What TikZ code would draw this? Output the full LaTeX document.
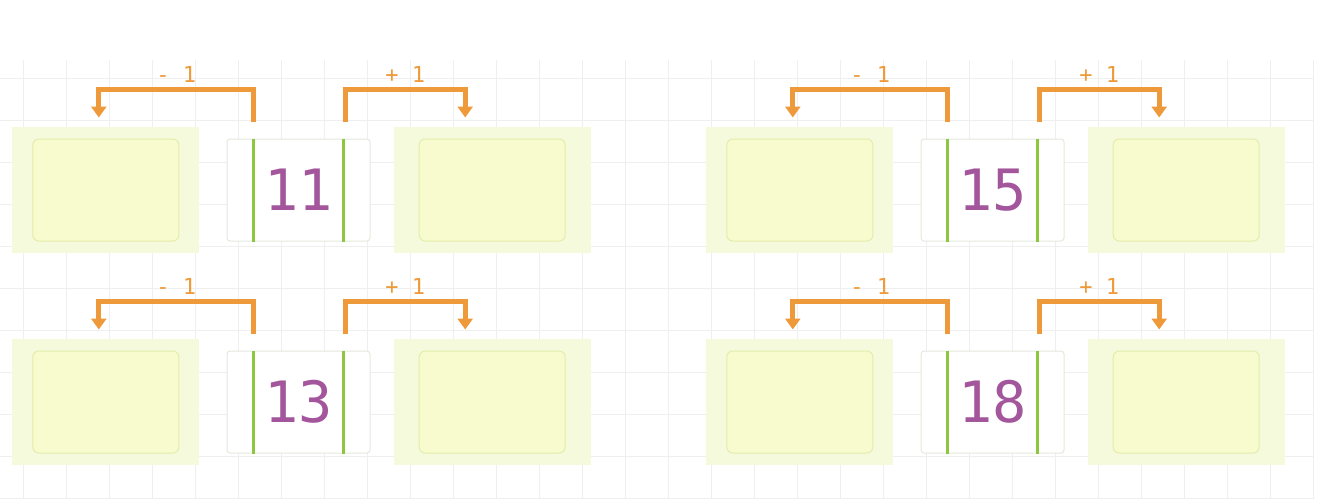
\documentclass[tikz,border=0pt]{standalone}
\usepackage{fontspec}
\setmonofont{DejaVu Sans Mono}
\usepackage{tikz}
\usetikzlibrary{arrows.meta,positioning}
\definecolor{tapefill}{HTML}{F6FADC}
\definecolor{cellfill}{HTML}{F7FBCE}
\definecolor{cellline}{HTML}{E4ECAC}
\definecolor{boxline}{HTML}{E4E9DC}
\definecolor{barc}{HTML}{8DC63F}
\definecolor{arrc}{HTML}{EE9A3A}
\definecolor{numc}{HTML}{A4569C}
\definecolor{gridc}{HTML}{EFEFEF}
\tikzset{
  tape/.style={fill=tapefill,minimum width=187pt,minimum height=126pt,inner sep=0pt},
  cell/.style={draw=cellline,line width=1pt,fill=cellfill,rounded corners=6pt,minimum width=146pt,minimum height=102pt,inner sep=0pt},
  numbox/.style={draw=boxline,line width=1pt,fill=white,rounded corners=3pt,minimum width=143pt,minimum height=102pt,inner sep=0pt,font=\ttfamily\fontsize{57}{57}\selectfont,text=numc},
  bar/.style={draw=barc,line width=3pt},
  arr/.style={-{Triangle[width=15pt,length=11pt]},line width=5pt,draw=arrc},
  lbl/.style={font=\ttfamily\fontsize{22}{22}\selectfont,text=arrc,inner sep=1pt},
  gridline/.style={draw=gridc,line width=1pt}}

\begin{document}
\begin{tikzpicture}[x=1pt,y=-1pt]
\useasboundingbox (0,0) rectangle (1324,499);
% grid paper
\foreach \gx in {23,66,...,1313} \draw[gridline] (\gx,60) -- (\gx,499);
\foreach \gy in {78,120,...,498} \draw[gridline] (0,\gy) -- (1313,\gy);
% 11
\node[numbox] (c11) at (298.5,190) {11};
\node[tape,left=27pt of c11] (l11) {};
\node[cell] (lc11) at (l11) {};
\node[tape,minimum width=197pt,right=23pt of c11] (r11) {};
\node[cell] (rc11) at (r11) {};
\draw[bar] ([xshift=-45pt]c11.north) -- ([xshift=-45pt]c11.south);
\draw[bar] ([xshift=45pt]c11.north) -- ([xshift=45pt]c11.south);
\draw[arr] ([xshift=-45pt,yshift=17pt]c11.north) -- ++(0,-32) -| node[lbl,pos=0.25,above=4pt] {- 1} ([xshift=-7pt,yshift=21pt]lc11.north);
\draw[arr] ([xshift=47pt,yshift=17pt]c11.north) -- ++(0,-32) -| node[lbl,pos=0.25,above=4pt] {+ 1} ([xshift=-27pt,yshift=21pt]rc11.north);
% 15
\node[numbox] (c15) at (992.5,190) {15};
\node[tape,left=27pt of c15] (l15) {};
\node[cell] (lc15) at (l15) {};
\node[tape,minimum width=197pt,right=23pt of c15] (r15) {};
\node[cell] (rc15) at (r15) {};
\draw[bar] ([xshift=-45pt]c15.north) -- ([xshift=-45pt]c15.south);
\draw[bar] ([xshift=45pt]c15.north) -- ([xshift=45pt]c15.south);
\draw[arr] ([xshift=-45pt,yshift=17pt]c15.north) -- ++(0,-32) -| node[lbl,pos=0.25,above=4pt] {- 1} ([xshift=-7pt,yshift=21pt]lc15.north);
\draw[arr] ([xshift=47pt,yshift=17pt]c15.north) -- ++(0,-32) -| node[lbl,pos=0.25,above=4pt] {+ 1} ([xshift=-27pt,yshift=21pt]rc15.north);
% 13
\node[numbox] (c13) at (298.5,402) {13};
\node[tape,left=27pt of c13] (l13) {};
\node[cell] (lc13) at (l13) {};
\node[tape,minimum width=197pt,right=23pt of c13] (r13) {};
\node[cell] (rc13) at (r13) {};
\draw[bar] ([xshift=-45pt]c13.north) -- ([xshift=-45pt]c13.south);
\draw[bar] ([xshift=45pt]c13.north) -- ([xshift=45pt]c13.south);
\draw[arr] ([xshift=-45pt,yshift=17pt]c13.north) -- ++(0,-32) -| node[lbl,pos=0.25,above=4pt] {- 1} ([xshift=-7pt,yshift=21pt]lc13.north);
\draw[arr] ([xshift=47pt,yshift=17pt]c13.north) -- ++(0,-32) -| node[lbl,pos=0.25,above=4pt] {+ 1} ([xshift=-27pt,yshift=21pt]rc13.north);
% 18
\node[numbox] (c18) at (992.5,402) {18};
\node[tape,left=27pt of c18] (l18) {};
\node[cell] (lc18) at (l18) {};
\node[tape,minimum width=197pt,right=23pt of c18] (r18) {};
\node[cell] (rc18) at (r18) {};
\draw[bar] ([xshift=-45pt]c18.north) -- ([xshift=-45pt]c18.south);
\draw[bar] ([xshift=45pt]c18.north) -- ([xshift=45pt]c18.south);
\draw[arr] ([xshift=-45pt,yshift=17pt]c18.north) -- ++(0,-32) -| node[lbl,pos=0.25,above=4pt] {- 1} ([xshift=-7pt,yshift=21pt]lc18.north);
\draw[arr] ([xshift=47pt,yshift=17pt]c18.north) -- ++(0,-32) -| node[lbl,pos=0.25,above=4pt] {+ 1} ([xshift=-27pt,yshift=21pt]rc18.north);
\end{tikzpicture}
\end{document}
